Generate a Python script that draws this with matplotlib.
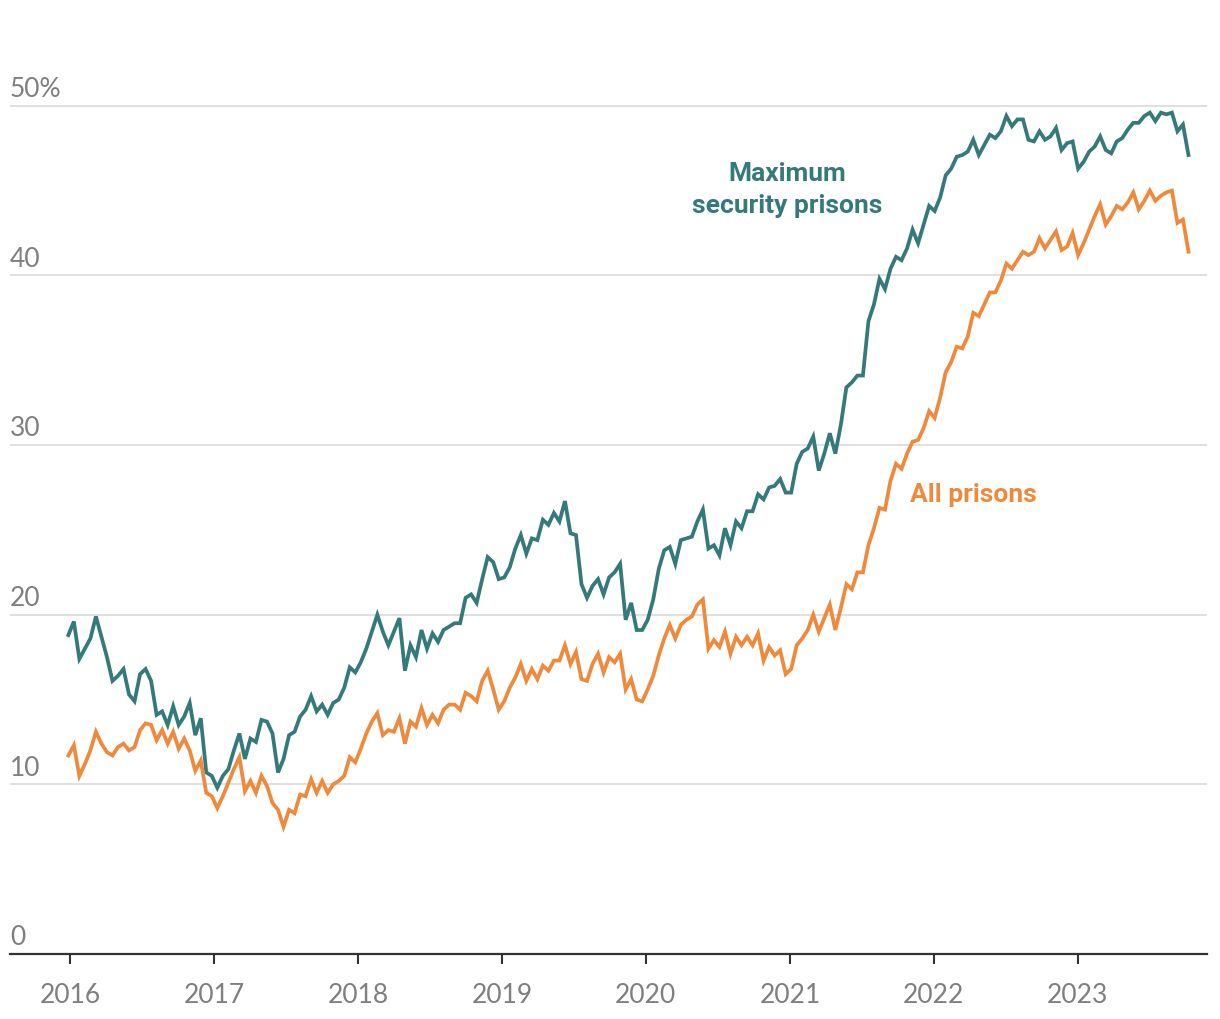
import matplotlib
matplotlib.use("Agg")
import matplotlib.pyplot as plt
import matplotlib.transforms as mtransforms
import numpy as np
import pandas as pd

# biweekly readings, late Dec 2015 .. Oct 2023
dates = pd.date_range("2015-12-28", periods=204, freq="14D")

max_security = [
    18.8, 19.6, 17.4, 18.0, 18.6, 19.9, 18.7, 17.5, 16.1, 16.4,
    16.8, 15.3, 14.9, 16.5, 16.8, 16.1, 14.1, 14.3, 13.5, 14.6,
    13.5, 14.0, 14.8, 12.9, 13.9, 10.7, 10.5, 9.8, 10.5, 10.9,
    12.0, 13.0, 11.5, 12.7, 12.5, 13.8, 13.7, 13.0, 10.7, 11.5,
    12.9, 13.1, 14.0, 14.4, 15.2, 14.3, 14.7, 14.1, 14.8, 15.0,
    15.7, 16.9, 16.6, 17.2, 18.0, 19.0, 20.0, 19.0, 18.2, 19.0,
    19.8, 16.7, 18.2, 17.5, 19.1, 18.0, 18.9, 18.4, 19.1, 19.3,
    19.5, 19.5, 21.0, 21.2, 20.7, 22.1, 23.4, 23.1, 22.1, 22.2,
    22.8, 23.9, 24.7, 23.6, 24.5, 24.4, 25.6, 25.3, 26.0, 25.5,
    26.7, 24.8, 24.7, 21.8, 21.0, 21.7, 22.1, 21.2, 22.2, 22.5,
    23.0, 19.7, 20.7, 19.1, 19.1, 19.7, 20.9, 22.7, 23.8, 24.0,
    23.0, 24.4, 24.5, 24.6, 25.5, 26.2, 23.9, 24.1, 23.5, 25.1,
    24.1, 25.5, 25.1, 26.1, 26.1, 27.1, 26.8, 27.5, 27.6, 28.0,
    27.2, 27.2, 28.9, 29.6, 29.8, 30.5, 28.5, 29.5, 30.7, 29.5,
    31.2, 33.4, 33.7, 34.1, 34.1, 37.3, 38.3, 39.8, 39.2, 40.4,
    41.1, 40.9, 41.6, 42.7, 41.9, 43.0, 44.1, 43.8, 44.6, 45.9,
    46.3, 47.0, 47.1, 47.3, 48.0, 47.1, 47.7, 48.3, 48.1, 48.5,
    49.4, 48.8, 49.2, 49.2, 48.0, 47.9, 48.5, 48.0, 48.2, 48.7,
    47.4, 47.8, 47.9, 46.3, 46.7, 47.3, 47.6, 48.2, 47.4, 47.2,
    47.9, 48.1, 48.6, 49.0, 49.0, 49.4, 49.6, 49.1, 49.6, 49.5,
    49.6, 48.5, 48.9, 47.1,
]

all_prisons = [
    11.7, 12.3, 10.5, 11.2, 12.0, 13.1, 12.4, 11.9, 11.7, 12.2,
    12.4, 12.0, 12.2, 13.2, 13.6, 13.5, 12.6, 13.2, 12.4, 13.1,
    12.1, 12.7, 12.0, 10.8, 11.4, 9.5, 9.3, 8.6, 9.3, 10.1,
    10.9, 11.6, 9.6, 10.2, 9.5, 10.5, 9.9, 8.9, 8.5, 7.5,
    8.5, 8.3, 9.4, 9.3, 10.3, 9.5, 10.2, 9.5, 10.0, 10.2,
    10.5, 11.6, 11.3, 12.1, 13.0, 13.7, 14.2, 12.9, 13.2, 13.1,
    13.9, 12.4, 13.7, 13.4, 14.5, 13.5, 14.1, 13.6, 14.4, 14.7,
    14.7, 14.4, 15.4, 15.2, 14.9, 16.1, 16.7, 15.6, 14.4, 14.9,
    15.7, 16.3, 17.1, 16.1, 16.8, 16.2, 17.0, 16.7, 17.3, 17.3,
    18.2, 17.1, 17.8, 16.2, 16.1, 17.1, 17.7, 16.6, 17.5, 17.2,
    17.7, 15.6, 16.2, 15.0, 14.9, 15.6, 16.4, 17.6, 18.6, 19.4,
    18.6, 19.4, 19.7, 19.9, 20.6, 20.9, 18.0, 18.5, 18.1, 19.0,
    17.7, 18.7, 18.2, 18.7, 18.2, 18.9, 17.3, 18.1, 17.6, 17.9,
    16.5, 16.8, 18.2, 18.6, 19.1, 20.0, 19.0, 19.8, 20.6, 19.1,
    20.4, 21.8, 21.5, 22.5, 22.5, 24.1, 25.1, 26.3, 26.2, 27.9,
    28.9, 28.6, 29.5, 30.2, 30.3, 31.0, 32.0, 31.6, 32.8, 34.3,
    34.9, 35.8, 35.7, 36.4, 37.8, 37.6, 38.3, 39.0, 39.0, 39.7,
    40.7, 40.4, 40.9, 41.4, 41.2, 41.4, 42.2, 41.6, 42.1, 42.6,
    41.5, 41.7, 42.5, 41.2, 41.9, 42.7, 43.5, 44.2, 43.0, 43.5,
    44.1, 43.9, 44.3, 44.9, 43.9, 44.4, 45.0, 44.4, 44.7, 44.9,
    45.0, 43.1, 43.3, 41.4,
]

y_ticks = [0, 10, 20, 30, 40, 50]
y_labels = ["0", "10", "20", "30", "40", "50%"]
years = list(range(2016, 2024))

teal = "#357a7a"
orange = "#ef8a3c"
grey = "#7f7f7f"

plt.rcParams['font.family'] = ['Lato', 'DejaVu Sans']

fig = plt.figure(figsize=(12.2, 10.2), dpi=100)
ax = fig.add_axes([10 / 1220, 65 / 1020, 1197 / 1220, 916 / 1020])

ax.plot(dates, max_security, color=teal, lw=2.7, solid_joinstyle="miter")
ax.plot(dates, all_prisons, color=orange, lw=2.7, solid_joinstyle="miter")

ax.set_ylim(0, 54)
ax.set_xlim(pd.Timestamp("2015-08-02"), pd.Timestamp("2023-11-25"))

# grid + labels sitting above the lines
for v, lab in zip(y_ticks, y_labels):
    if v > 0:
        ax.axhline(v, color="#dddddd", lw=1.3, zorder=0)
    off = mtransforms.offset_copy(ax.get_yaxis_transform(), fig=fig, x=0, y=3.5, units="points")
    ax.text(0, v, lab, transform=off, ha="left", va="bottom", fontsize=19, color=grey)

ax.set_yticks([])
ax.set_xticks([pd.Timestamp(f"{y}-01-01") for y in years])
ax.set_xticklabels([str(y) for y in years], fontsize=19, color=grey)
ax.tick_params(axis="x", length=7, width=1.5, color="#333333", pad=13)

for s in ["top", "right", "left"]:
    ax.spines[s].set_visible(False)
ax.spines["bottom"].set_color("#333333")
ax.spines["bottom"].set_linewidth(1.6)

ax.text(pd.Timestamp("2020-12-25"), 45.1, "Maximum\nsecurity prisons", color=teal,
        fontsize=19, fontweight="bold", ha="center", va="center", linespacing=1.45,
        family=["Roboto", "DejaVu Sans"])
ax.text(pd.Timestamp("2021-11-02"), 27.1, "All prisons", color=orange,
        fontsize=19, fontweight="bold", ha="left", va="center",
        family=["Roboto", "DejaVu Sans"])

fig.savefig("out.png", dpi=100)
